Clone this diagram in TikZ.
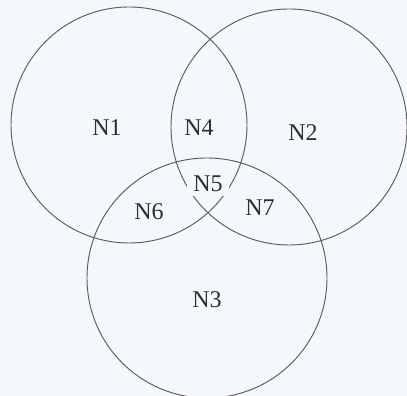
\documentclass[tikz,border=0pt]{standalone}
\usepackage{fontspec}
\setmainfont{Liberation Serif}
\definecolor{bg}{HTML}{F4F8FC}
\definecolor{ln}{HTML}{5E5A5E}
\definecolor{tx}{HTML}{2E2E2E}
\begin{document}
\begin{tikzpicture}[x=1pt,y=1pt,
  ring/.style={draw=ln,line width=0.95pt},
  lbl/.style={text=tx,font=\fontsize{24}{28}\selectfont,inner sep=1pt}]
\fill[bg] (0,0) rectangle (407,396);
\useasboundingbox (0,0) rectangle (407,396);
\draw[ring] (129,271) circle (118);
\draw[ring] (289,269) circle (118);
\draw[ring] (207,118) circle (120);
\node[lbl] (n1) at (107,268) {N1};
\node[lbl] (n4) at (199,268) {N4};
\node[lbl] (n2) at (303,263) {N2};
\node[lbl,fill=bg,inner xsep=6pt,inner ysep=4pt] (n5) at (208,212) {N5};
\node[lbl] (n6) at (149,184) {N6};
\node[lbl] (n7) at (260,188) {N7};
\node[lbl] (n3) at (207,096) {N3};
\end{tikzpicture}
\end{document}
